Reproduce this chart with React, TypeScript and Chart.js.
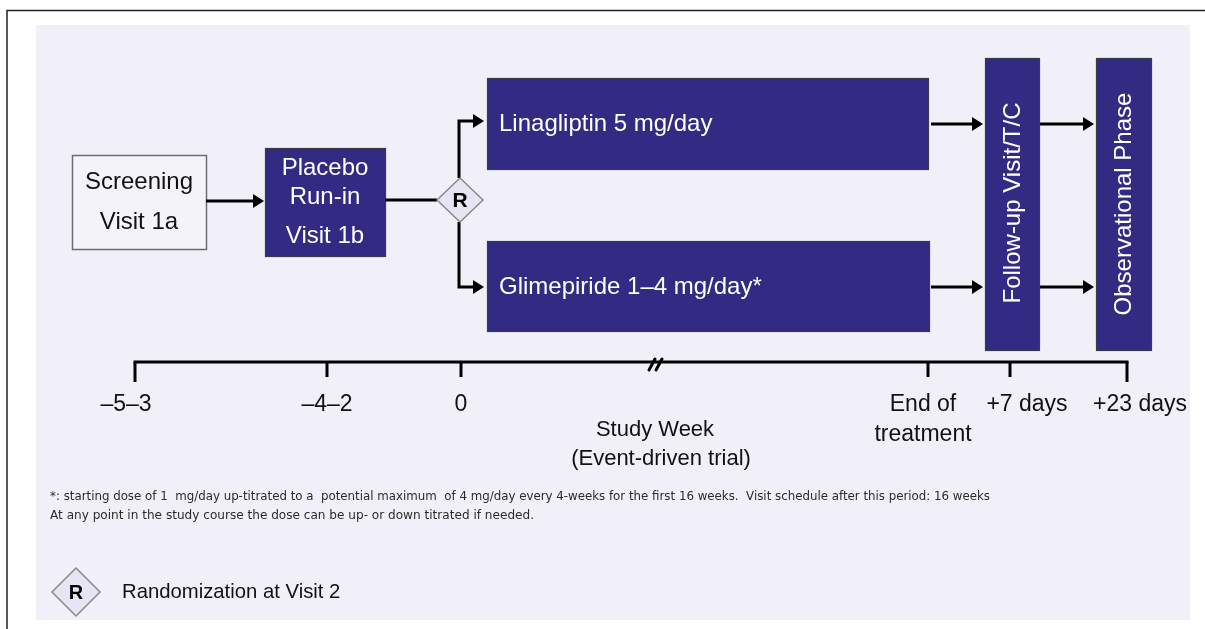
import React, { useEffect, useRef } from "react";
import { Chart, registerables } from "chart.js";

Chart.register(...registerables);

const W = 1205;
const H = 629;
const FONT = "'Liberation Sans', Arial, sans-serif";
const NOTE_FONT = "'DejaVu Sans', Verdana, sans-serif";

// ---- Content (text) ----
const boxTexts: string[][] = [
  ["Screening", "Visit 1a"],
  ["Placebo", "Run-in", "Visit 1b"],
  ["Linagliptin 5 mg/day"],
  ["Glimepiride 1–4 mg/day*"],
  ["Follow-up Visit/T/C"],
  ["Observational Phase"],
];
const tickLabels: string[][] = [
  ["–5–3"],
  ["–4–2"],
  ["0"],
  ["End of", "treatment"],
  ["+7 days"],
  ["+23 days"],
];
const axisTitle = ["Study Week", "(Event-driven trial)"];
const footnotes = [
  "*: starting dose of 1  mg/day up-titrated to a  potential maximum  of 4 mg/day every 4-weeks for the first 16 weeks.  Visit schedule after this period: 16 weeks",
  "At any point in the study course the dose can be up- or down titrated if needed.",
];
const legendText = "Randomization at Visit 2";
const randomLabel = "R";

// ---- Layout (diagram units, mapped through the chart scales) ----
const boxRects = [
  { x0: 72, y0: 155, x1: 206, y1: 249, dark: false, align: "center", vertical: false, lineY: [182, 222] },
  { x0: 265, y0: 148, x1: 385, y1: 256, dark: true, align: "center", vertical: false, lineY: [168, 197, 236] },
  { x0: 487, y0: 78, x1: 928, y1: 169, dark: true, align: "left", vertical: false, lineY: [124] },
  { x0: 487, y0: 241, x1: 929, y1: 331, dark: true, align: "left", vertical: false, lineY: [287] },
  { x0: 985, y0: 58, x1: 1039, y1: 350, dark: true, align: "center", vertical: true, lineY: [203] },
  { x0: 1096, y0: 58, x1: 1151, y1: 350, dark: true, align: "center", vertical: true, lineY: [204] },
];
const tickX = [135, 327, 461, 928, 1010, 1127];
const tickLen = [20, 15, 15, 15, 15, 20];
const tickLabelX = [126, 327, 461, 923, 1027, 1140];
const axisY = 362;
const footnoteX = [50, 50];
const footnoteRight = [990, 534];
const footnoteY = [497, 516];

// arrows: polyline points, head at end
const arrows: { pts: number[][]; head: boolean }[] = [
  { pts: [[206, 201], [264, 201]], head: true },
  { pts: [[385, 200], [437, 200]], head: false },
  { pts: [[459, 178], [459, 121], [484, 121]], head: true },
  { pts: [[459, 222], [459, 287], [484, 287]], head: true },
  { pts: [[931, 124], [983, 124]], head: true },
  { pts: [[931, 287], [983, 287]], head: true },
  { pts: [[1040, 124], [1094, 124]], head: true },
  { pts: [[1040, 287], [1094, 287]], head: true },
];

const COLORS = {
  panel: "#F1F0F8",
  dark: "#332A83",
  darkBorder: "#3a3a4a",
  light: "#F4F3FA",
  lightBorder: "#6d6d6d",
  diamond: "#E7E5F3",
  diamondBorder: "#8a8a8a",
  ink: "#000000",
  text: "#111111",
  note: "#2a2a2a",
  white: "#FFFFFF",
};

const diagramPlugin = {
  id: "diagram",
  afterDraw(chart: any) {
    const ctx: CanvasRenderingContext2D = chart.ctx;
    const xs = chart.scales.x;
    const ys = chart.scales.y;
    const X = (v: number) => xs.getPixelForValue(v);
    const Y = (v: number) => ys.getPixelForValue(v);

    ctx.save();
    ctx.fillStyle = "#FFFFFF";
    ctx.fillRect(X(0), Y(0), X(W) - X(0), Y(H) - Y(0));

    // outer frame
    ctx.strokeStyle = "#222";
    ctx.lineWidth = 1.5;
    ctx.beginPath();
    ctx.moveTo(X(7), Y(H));
    ctx.lineTo(X(7), Y(10.5));
    ctx.lineTo(X(W), Y(10.5));
    ctx.stroke();

    // panel
    ctx.fillStyle = COLORS.panel;
    ctx.fillRect(X(36), Y(25), X(1190) - X(36), Y(620) - Y(25));

    // boxes
    boxRects.forEach((b, i) => {
      const x0 = X(b.x0), y0 = Y(b.y0), w = X(b.x1) - x0, h = Y(b.y1) - y0;
      ctx.fillStyle = b.dark ? COLORS.dark : COLORS.light;
      ctx.fillRect(x0, y0, w, h);
      ctx.strokeStyle = b.dark ? COLORS.darkBorder : COLORS.lightBorder;
      ctx.lineWidth = b.dark ? 1.2 : 1.5;
      ctx.strokeRect(x0 + 0.5, y0 + 0.5, w, h);
      ctx.fillStyle = b.dark ? COLORS.white : COLORS.text;
      ctx.font = `24px ${FONT}`;
      ctx.textBaseline = "middle";
      const texts = boxTexts[i];
      if (b.vertical) {
        ctx.save();
        ctx.translate(x0 + w / 2, Y(b.lineY[0]));
        ctx.rotate(-Math.PI / 2);
        ctx.textAlign = "center";
        ctx.fillText(texts[0], 0, 1);
        ctx.restore();
      } else {
        texts.forEach((t, j) => {
          if (b.align === "left") {
            ctx.textAlign = "left";
            ctx.fillText(t, x0 + 12, Y(b.lineY[j]));
          } else {
            ctx.textAlign = "center";
            ctx.fillText(t, x0 + w / 2, Y(b.lineY[j]));
          }
        });
      }
    });

    // arrows
    ctx.strokeStyle = COLORS.ink;
    ctx.fillStyle = COLORS.ink;
    ctx.lineWidth = 3;
    ctx.lineJoin = "miter";
    arrows.forEach((a) => {
      const pts = a.pts.map((p) => [X(p[0]), Y(p[1])]);
      const last = pts[pts.length - 1];
      const prev = pts[pts.length - 2];
      const headLen = 11;
      ctx.beginPath();
      ctx.moveTo(pts[0][0], pts[0][1]);
      for (let k = 1; k < pts.length - 1; k++) ctx.lineTo(pts[k][0], pts[k][1]);
      if (a.head) {
        ctx.lineTo(last[0] - headLen + 1, last[1]);
      } else {
        ctx.lineTo(last[0], last[1]);
      }
      ctx.stroke();
      if (a.head) {
        const dir = Math.sign(last[0] - prev[0]) || 1;
        ctx.beginPath();
        ctx.moveTo(last[0], last[1]);
        ctx.lineTo(last[0] - dir * headLen, last[1] - 7);
        ctx.lineTo(last[0] - dir * headLen, last[1] + 7);
        ctx.closePath();
        ctx.fill();
      }
    });

    // randomization diamond
    const diamond = (cx: number, cy: number, hw: number, hh: number, size: number) => {
      ctx.beginPath();
      ctx.moveTo(X(cx), Y(cy - hh));
      ctx.lineTo(X(cx + hw), Y(cy));
      ctx.lineTo(X(cx), Y(cy + hh));
      ctx.lineTo(X(cx - hw), Y(cy));
      ctx.closePath();
      ctx.fillStyle = COLORS.diamond;
      ctx.fill();
      ctx.strokeStyle = COLORS.diamondBorder;
      ctx.lineWidth = 1.5;
      ctx.stroke();
      ctx.fillStyle = COLORS.ink;
      ctx.font = `bold ${size}px ${FONT}`;
      ctx.textAlign = "center";
      ctx.textBaseline = "middle";
      ctx.fillText(randomLabel, X(cx), Y(cy + 1));
    };
    diamond(460, 200, 23, 22, 21);

    // timeline axis
    ctx.strokeStyle = COLORS.ink;
    ctx.lineWidth = 3;
    ctx.lineCap = "butt";
    ctx.beginPath();
    ctx.moveTo(X(tickX[0]) - 1.5, Y(axisY));
    ctx.lineTo(X(tickX[tickX.length - 1]) + 1.5, Y(axisY));
    ctx.stroke();
    tickX.forEach((tx, i) => {
      ctx.beginPath();
      ctx.moveTo(X(tx), Y(axisY));
      ctx.lineTo(X(tx), Y(axisY + tickLen[i]));
      ctx.stroke();
    });
    // break mark
    ctx.lineWidth = 3;
    ctx.lineCap = "round";
    ctx.beginPath();
    ctx.moveTo(X(649), Y(370));
    ctx.lineTo(X(655), Y(359));
    ctx.moveTo(X(656), Y(370));
    ctx.lineTo(X(662), Y(359));
    ctx.stroke();
    ctx.lineCap = "butt";

    // tick labels
    ctx.fillStyle = COLORS.text;
    ctx.font = `23px ${FONT}`;
    ctx.textAlign = "center";
    ctx.textBaseline = "middle";
    tickLabels.forEach((lines, i) => {
      lines.forEach((t, j) => {
        ctx.fillText(t, X(tickLabelX[i]), Y(405 + j * 30));
      });
    });
    ctx.font = `22px ${FONT}`;
    ctx.fillText(axisTitle[0], X(655), Y(430));
    ctx.fillText(axisTitle[1], X(661), Y(459));

    // footnotes (fitted to the reference width)
    ctx.textAlign = "left";
    ctx.fillStyle = COLORS.note;
    ctx.font = `12px ${NOTE_FONT}`;
    footnotes.forEach((t, i) => {
      const target = X(footnoteRight[i]) - X(footnoteX[i]);
      const m = ctx.measureText(t).width;
      const sx = target / m;
      ctx.save();
      ctx.translate(X(footnoteX[i]), Y(footnoteY[i]));
      ctx.scale(sx, 1);
      ctx.fillText(t, 0, 0);
      ctx.restore();
    });

    // legend
    diamond(76, 592, 24, 24, 20);
    ctx.fillStyle = COLORS.text;
    ctx.font = `20.3px ${FONT}`;
    ctx.textAlign = "left";
    ctx.fillText(legendText, X(122), Y(592));

    ctx.restore();
  },
};

export default function App() {
  const ref = useRef<HTMLCanvasElement>(null);
  useEffect(() => {
    if (!ref.current) return;
    const chart = new Chart(ref.current, {
      type: "scatter",
      data: { datasets: [{ data: [], pointRadius: 0 }] },
      options: {
        animation: false,
        responsive: false,
        devicePixelRatio: 1,
        events: [],
        layout: { padding: 0 },
        plugins: { legend: { display: false }, tooltip: { enabled: false } },
        scales: {
          x: { type: "linear", min: 0, max: W, display: false },
          y: { type: "linear", min: 0, max: H, reverse: true, display: false },
        },
      },
      plugins: [diagramPlugin],
    });
    return () => chart.destroy();
  }, []);
  return (
    <div style={{ position: "fixed", left: 0, top: 0, width: W, height: H, background: "#fff" }}>
      <canvas ref={ref} width={W} height={H} style={{ display: "block", width: W, height: H }} />
    </div>
  );
}
